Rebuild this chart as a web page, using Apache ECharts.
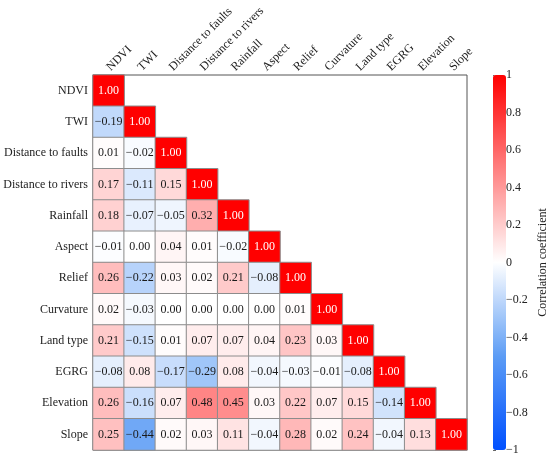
<!DOCTYPE html>
<html>
<head>
<meta charset="utf-8">
<script src="https://cdn.jsdelivr.net/npm/echarts@6/dist/echarts.min.js"></script>
<style>
  html, body { margin: 0; padding: 0; background: #fff; }
  #chart { width: 550px; height: 462px; }
</style>
</head>
<body>
<div id="chart"></div>
<script>
// Factor names, same order on both axes
const factors = [
  "NDVI", "TWI", "Distance to faults", "Distance to rivers", "Rainfall", "Aspect",
  "Relief", "Curvature", "Land type", "EGRG", "Elevation", "Slope"
];

// Lower triangle of the correlation matrix, row by row (diagonal included)
const rowNDVI = [1.00];
const rowTWI = [-0.19, 1.00];
const rowFaults = [0.01, -0.02, 1.00];
const rowRivers = [0.17, -0.11, 0.15, 1.00];
const rowRainfall = [0.18, -0.07, -0.05, 0.32, 1.00];
const rowAspect = [-0.01, 0.00, 0.04, 0.01, -0.02, 1.00];
const rowRelief = [0.26, -0.22, 0.03, 0.02, 0.21, -0.08, 1.00];
const rowCurvature = [0.02, -0.03, 0.00, 0.00, 0.00, 0.00, 0.01, 1.00];
const rowLandType = [0.21, -0.15, 0.01, 0.07, 0.07, 0.04, 0.23, 0.03, 1.00];
const rowEGRG = [-0.08, 0.08, -0.17, -0.29, 0.08, -0.04, -0.03, -0.01, -0.08, 1.00];
const rowElevation = [0.26, -0.16, 0.07, 0.48, 0.45, 0.03, 0.22, 0.07, 0.15, -0.14, 1.00];
const rowSlope = [0.25, -0.44, 0.02, 0.03, 0.11, -0.04, 0.28, 0.02, 0.24, -0.04, 0.13, 1.00];

const rows = [rowNDVI, rowTWI, rowFaults, rowRivers, rowRainfall, rowAspect,
  rowRelief, rowCurvature, rowLandType, rowEGRG, rowElevation, rowSlope];

// Colour bar ticks
const barTicks = [-1, -0.8, -0.6, -0.4, -0.2, 0, 0.2, 0.4, 0.6, 0.8, 1];

const FONT = "'Liberation Serif', 'Times New Roman', serif";
const fmt = (v) => (v < 0 ? "\u2212" : "") + Math.abs(v).toFixed(2);
const fmtTick = (v) => {
  const r = Math.round(v * 10) / 10;
  if (r === 0) return "0";
  return (r < 0 ? "\u2212" : "") + String(Math.abs(r));
};

const cells = [];
rows.forEach((row, i) => {
  row.forEach((v, j) => {
    const item = { value: [j, i, v] };
    if (i === j) item.label = { color: "#fff" };
    cells.push(item);
  });
});

const chart = echarts.init(document.getElementById("chart"));
chart.setOption({
  animation: false,
  textStyle: { fontFamily: FONT },
  grid: [
    { left: 93, top: 75, width: 374, height: 375, show: true,
      borderColor: "#555", borderWidth: 1, backgroundColor: "transparent" },
    { left: 493, top: 75, width: 13, height: 375 }
  ],
  xAxis: [
    {
      type: "category", data: factors, position: "top", gridIndex: 0,
      axisLine: { show: false }, axisTick: { show: false }, splitArea: { show: false },
      axisLabel: { rotate: -45, interval: 0, margin: 6, color: "#222", fontSize: 12, fontFamily: FONT }
    },
    { type: "value", gridIndex: 1, show: false, min: 0, max: 1 }
  ],
  yAxis: [
    {
      type: "category", data: factors, inverse: true, gridIndex: 0,
      axisLine: { show: false }, axisTick: { show: false },
      axisLabel: { interval: 0, margin: 5, color: "#222", fontSize: 12, fontFamily: FONT }
    },
    {
      type: "value", gridIndex: 1, position: "right", min: -1, max: 1, interval: 0.2,
      axisLine: { show: false }, splitLine: { show: false },
      axisTick: { show: true, length: 3, lineStyle: { color: "#666" } },
      axisLabel: { margin: 3, color: "#222", fontSize: 12, fontFamily: FONT,
        formatter: (v) => (barTicks.some((t) => Math.abs(t - v) < 1e-6) ? fmtTick(v) : "") },
      name: "Correlation coefficient", nameLocation: "middle", nameRotate: 90, nameGap: 34,
      nameTextStyle: { color: "#222", fontSize: 12, fontFamily: FONT }
    }
  ],
  visualMap: {
    type: "continuous", min: -1, max: 1, seriesIndex: 0, calculable: false,
    orient: "vertical", left: 493, top: 75, itemWidth: 13, itemHeight: 375,
    padding: 0, text: null, showLabel: false, hoverLink: false,
    inRange: { color: ["#0050ff", "#5c9cf5", "#ffffff", "#ff8080", "#ff0000"] }
  },
  series: [
    {
      type: "heatmap", xAxisIndex: 0, yAxisIndex: 0, data: cells,
      itemStyle: { borderColor: "#8c8c8c", borderWidth: 1 },
      label: { show: true, fontSize: 12, color: "#1a1a1a", fontFamily: FONT,
        formatter: (p) => fmt(p.value[2]) },
      emphasis: { disabled: true }
    }
  ]
});
</script>
</body>
</html>
